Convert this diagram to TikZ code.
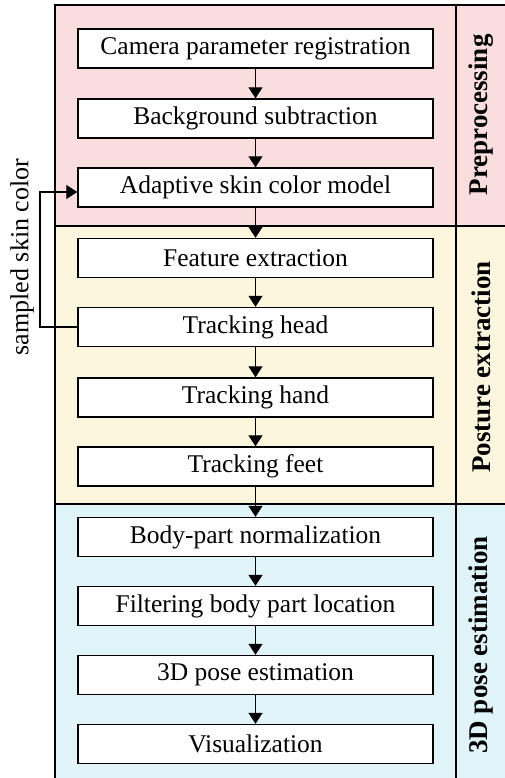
\documentclass[tikz,border=0pt]{standalone}
\usepackage{fontspec}
\setmainfont{Liberation Serif}
\usetikzlibrary{arrows.meta}
\definecolor{bandpink}{RGB}{250,222,222}
\definecolor{bandyellow}{RGB}{252,246,222}
\definecolor{bandblue}{RGB}{224,244,250}
\begin{document}
\begin{tikzpicture}[x=1pt,y=-1pt,
  stepbox/.style={draw=black,line width=1.4pt,fill=white,minimum width=355pt,minimum height=39pt,inner sep=0pt,font=\fontsize{25.5}{28}\selectfont},
  flow/.style={-{Triangle[length=11pt,width=14pt]},line width=1.3pt},
  bandlabel/.style={rotate=90,font=\fontsize{27}{30}\selectfont\bfseries},
  frame/.style={line width=1.3pt}]
\useasboundingbox (0,0) rectangle (505,778);
% bands
\fill[bandpink] (55,5) rectangle (505,226);
\fill[bandyellow] (55,226) rectangle (505,504);
\fill[bandblue] (55,504) rectangle (505,778);
\draw[frame] (505,5) -- (55,5) -- (55,778);
\draw[frame] (55,226) -- (505,226);
\draw[frame] (55,504) -- (505,504);
\draw[frame] (456,5) -- (456,778);
% labels
\node[bandlabel] (lp) at (481,115) {Preprocessing};
\node[bandlabel] (lq) at (481,367) {Posture extraction};
\node[bandlabel] (lr) at (481,645) {3D pose estimation};
% boxes
\node[stepbox] (b1) at (255.5,48.5) {Camera parameter registration};
\node[stepbox] (b2) at (255.5,118.5) {Background subtraction};
\node[stepbox] (b3) at (255.5,187.5) {Adaptive skin color model};
\node[stepbox] (b4) at (255.5,258) {Feature extraction};
\node[stepbox] (b5) at (255.5,327) {Tracking head};
\node[stepbox] (b6) at (255.5,397.5) {Tracking hand};
\node[stepbox] (b7) at (255.5,466.5) {Tracking feet};
\node[stepbox] (b8) at (255.5,537) {Body-part normalization};
\node[stepbox] (b9) at (255.5,606) {Filtering body part location};
\node[stepbox] (b10) at (255.5,675) {3D pose estimation};
\node[stepbox] (b11) at (255.5,744) {Visualization};
\foreach \a/\b in {b1/b2,b2/b3,b3/b4,b4/b5,b5/b6,b6/b7,b7/b8,b8/b9,b9/b10,b10/b11}
  \draw[flow] (\a.south) -- (\b.north);
% feedback
\coordinate (fb1) at (40,327);
\coordinate (fb2) at (40,192);
\draw[flow] (b5.west) -- (fb1) -- (fb2) -- (b3.west |- fb2);
\node[rotate=90,font=\fontsize{26}{29}\selectfont] (sk) at (22,257) {sampled skin color};
\end{tikzpicture}
\end{document}
